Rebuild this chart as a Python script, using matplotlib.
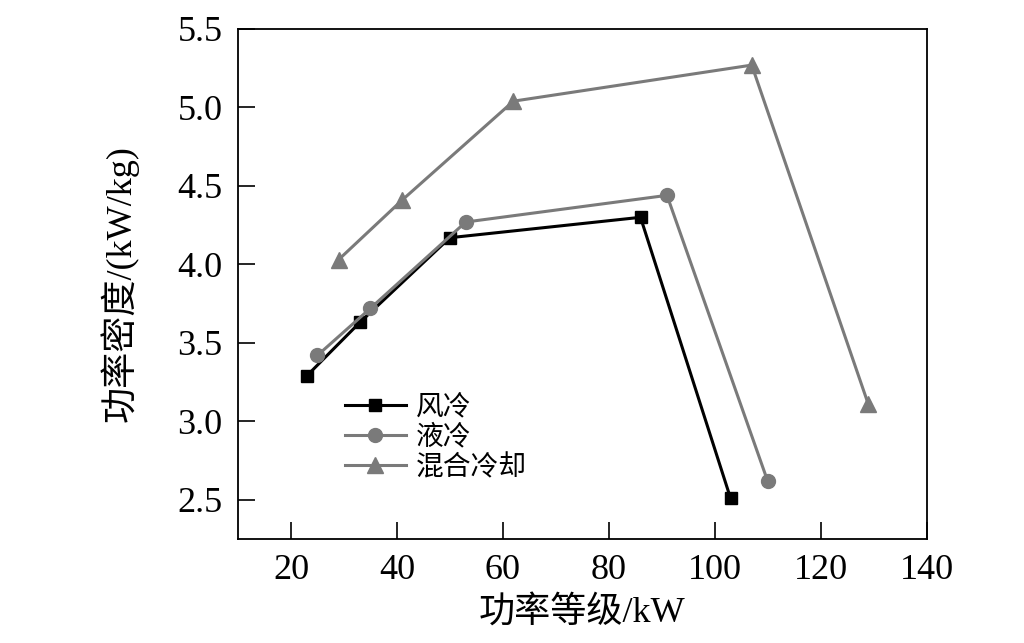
import matplotlib
matplotlib.use("Agg")
import matplotlib.pyplot as plt

# values
air_x = [23, 33, 50, 86, 103]
air_y = [3.29, 3.63, 4.17, 4.30, 2.51]
liq_x = [25, 35, 53, 91, 110]
liq_y = [3.42, 3.72, 4.27, 4.44, 2.62]
mix_x = [29, 41, 62, 107, 129]
mix_y = [4.03, 4.41, 5.04, 5.27, 3.11]

labels = ['风冷', '液冷', '混合冷却']
xticks = [20, 40, 60, 80, 100, 120, 140]
yticks = [2.5, 3.0, 3.5, 4.0, 4.5, 5.0, 5.5]

plt.rcParams['font.family'] = ['Liberation Serif', 'Noto Sans CJK SC', 'DejaVu Sans']
plt.rcParams['axes.unicode_minus'] = False

gray = '#7a7a7a'

fig = plt.figure(figsize=(10.24, 6.43), dpi=100)
ax = fig.add_axes([0.2324, 0.1617, 0.6724, 0.7932])

ax.plot(air_x, air_y, color='black', lw=2.2, marker='s', ms=9, label=labels[0])
ax.plot(liq_x, liq_y, color=gray, lw=2.2, marker='o', ms=10, label=labels[1])
ax.plot(mix_x, mix_y, color=gray, lw=2.2, marker='^', ms=11, label=labels[2])

ax.set_xlim(10, 140)
ax.set_ylim(2.25, 5.5)
ax.set_xticks(xticks)
ax.set_yticks(yticks)
ax.set_yticklabels(['%.1f' % v for v in yticks])
ax.tick_params(direction='in', length=12, width=1.2, labelsize=26, pad=11)
for s in ax.spines.values():
  s.set_linewidth(1.3)

ax.set_xlabel('功率等级/kW', fontsize=26, labelpad=6)
ax.set_ylabel('功率密度/(kW/kg)', fontsize=26, labelpad=28)

leg = ax.legend(loc='center left', bbox_to_anchor=(0.155, 0.198), frameon=False,
                fontsize=20, handlelength=2.2, handletextpad=0.35,
                borderpad=0, borderaxespad=0, labelspacing=0.15)

plt.savefig('out.png', dpi=100)
